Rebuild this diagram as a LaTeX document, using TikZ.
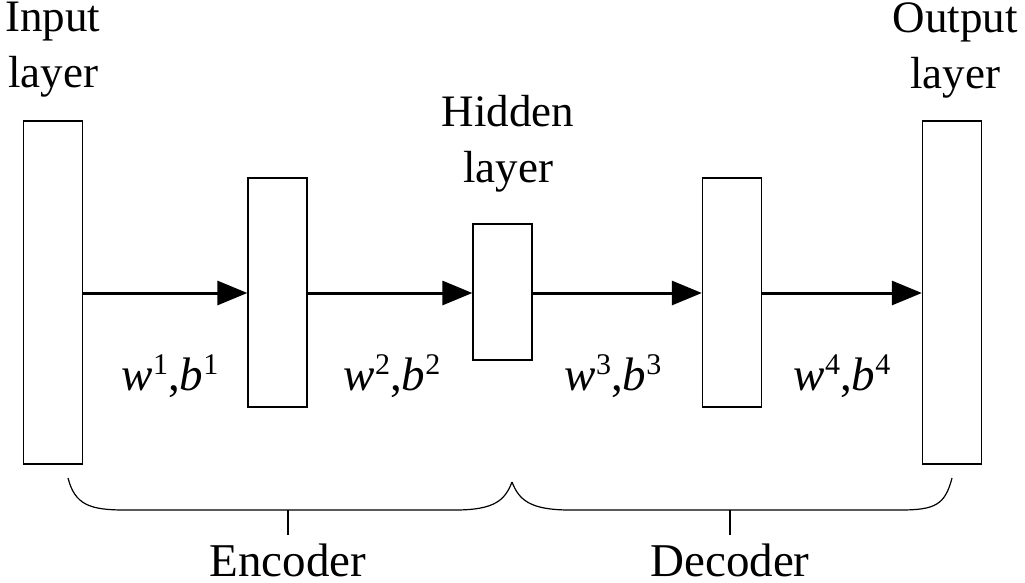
\documentclass[tikz,border=0pt]{standalone}
\usepackage{fontspec}
\setmainfont{Liberation Serif}
\usetikzlibrary{arrows.meta}
\newcommand{\wb}[1]{\textit{w}\raisebox{0.35em}{\fontsize{30}{30}\selectfont #1},\textit{b}\raisebox{0.35em}{\fontsize{30}{30}\selectfont #1}}
\begin{document}
\begin{tikzpicture}[x=1pt,y=-1pt,
  lay/.style={draw,line width=1.3pt,minimum width=59pt,inner sep=0pt},
  arr/.style={line width=3pt,-{Triangle[length=30pt,width=24pt]}},
  txt/.style={font=\fontsize{45}{56}\selectfont,align=center,inner sep=0pt},
  lbl/.style={font=\fontsize{47}{50}\selectfont,inner sep=0pt},
  br/.style={line width=1.2pt}]
\useasboundingbox (0,0) rectangle (1025,582);
\node[lay,minimum height=343pt] (in) at (53,292.5) {};
\node[lay,minimum height=229pt] (e1) at (277.5,292.5) {};
\node[lay,minimum height=136pt] (h) at (502.5,292) {};
\node[lay,minimum height=229pt] (d1) at (732,292.5) {};
\node[lay,minimum height=343pt] (out) at (952,292.5) {};
\draw[arr] (in.east|-0,293) -- (e1.west|-0,293);
\draw[arr] (e1.east|-0,293) -- (h.west|-0,293);
\draw[arr] (h.east|-0,293) -- (d1.west|-0,293);
\draw[arr] (d1.east|-0,293) -- (out.west|-0,293);
\node[txt] (tin) at (53,50) {Input\\layer};
\node[txt] (th) at (508,144) {Hidden\\layer};
\node[txt] (tout) at (955,50) {Output\\layer};
\node[lbl] (l1) at (170,376) {\wb{1}};
\node[lbl] (l2) at (392,376) {\wb{2}};
\node[lbl] (l3) at (613,376) {\wb{3}};
\node[lbl] (l4) at (842,376) {\wb{4}};
\draw[br] (68,478) .. controls (75,505) and (90,510) .. (125,510) -- (455,510) .. controls (495,510) and (505,500) .. (512,482);
\draw[br] (512,482) .. controls (519,500) and (530,510) .. (570,510) -- (900,510) .. controls (935,510) and (945,505) .. (952,478);
\coordinate (c1) at (288,510);
\coordinate (c2) at (730,510);
\draw[br] (c1) -- ++(0,25);
\draw[br] (c2) -- ++(0,25);
\node[lbl,anchor=north] (enc) at (288,544) {Encoder};
\node[lbl,anchor=north] (dec) at (730,544) {Decoder};
\end{tikzpicture}
\end{document}
